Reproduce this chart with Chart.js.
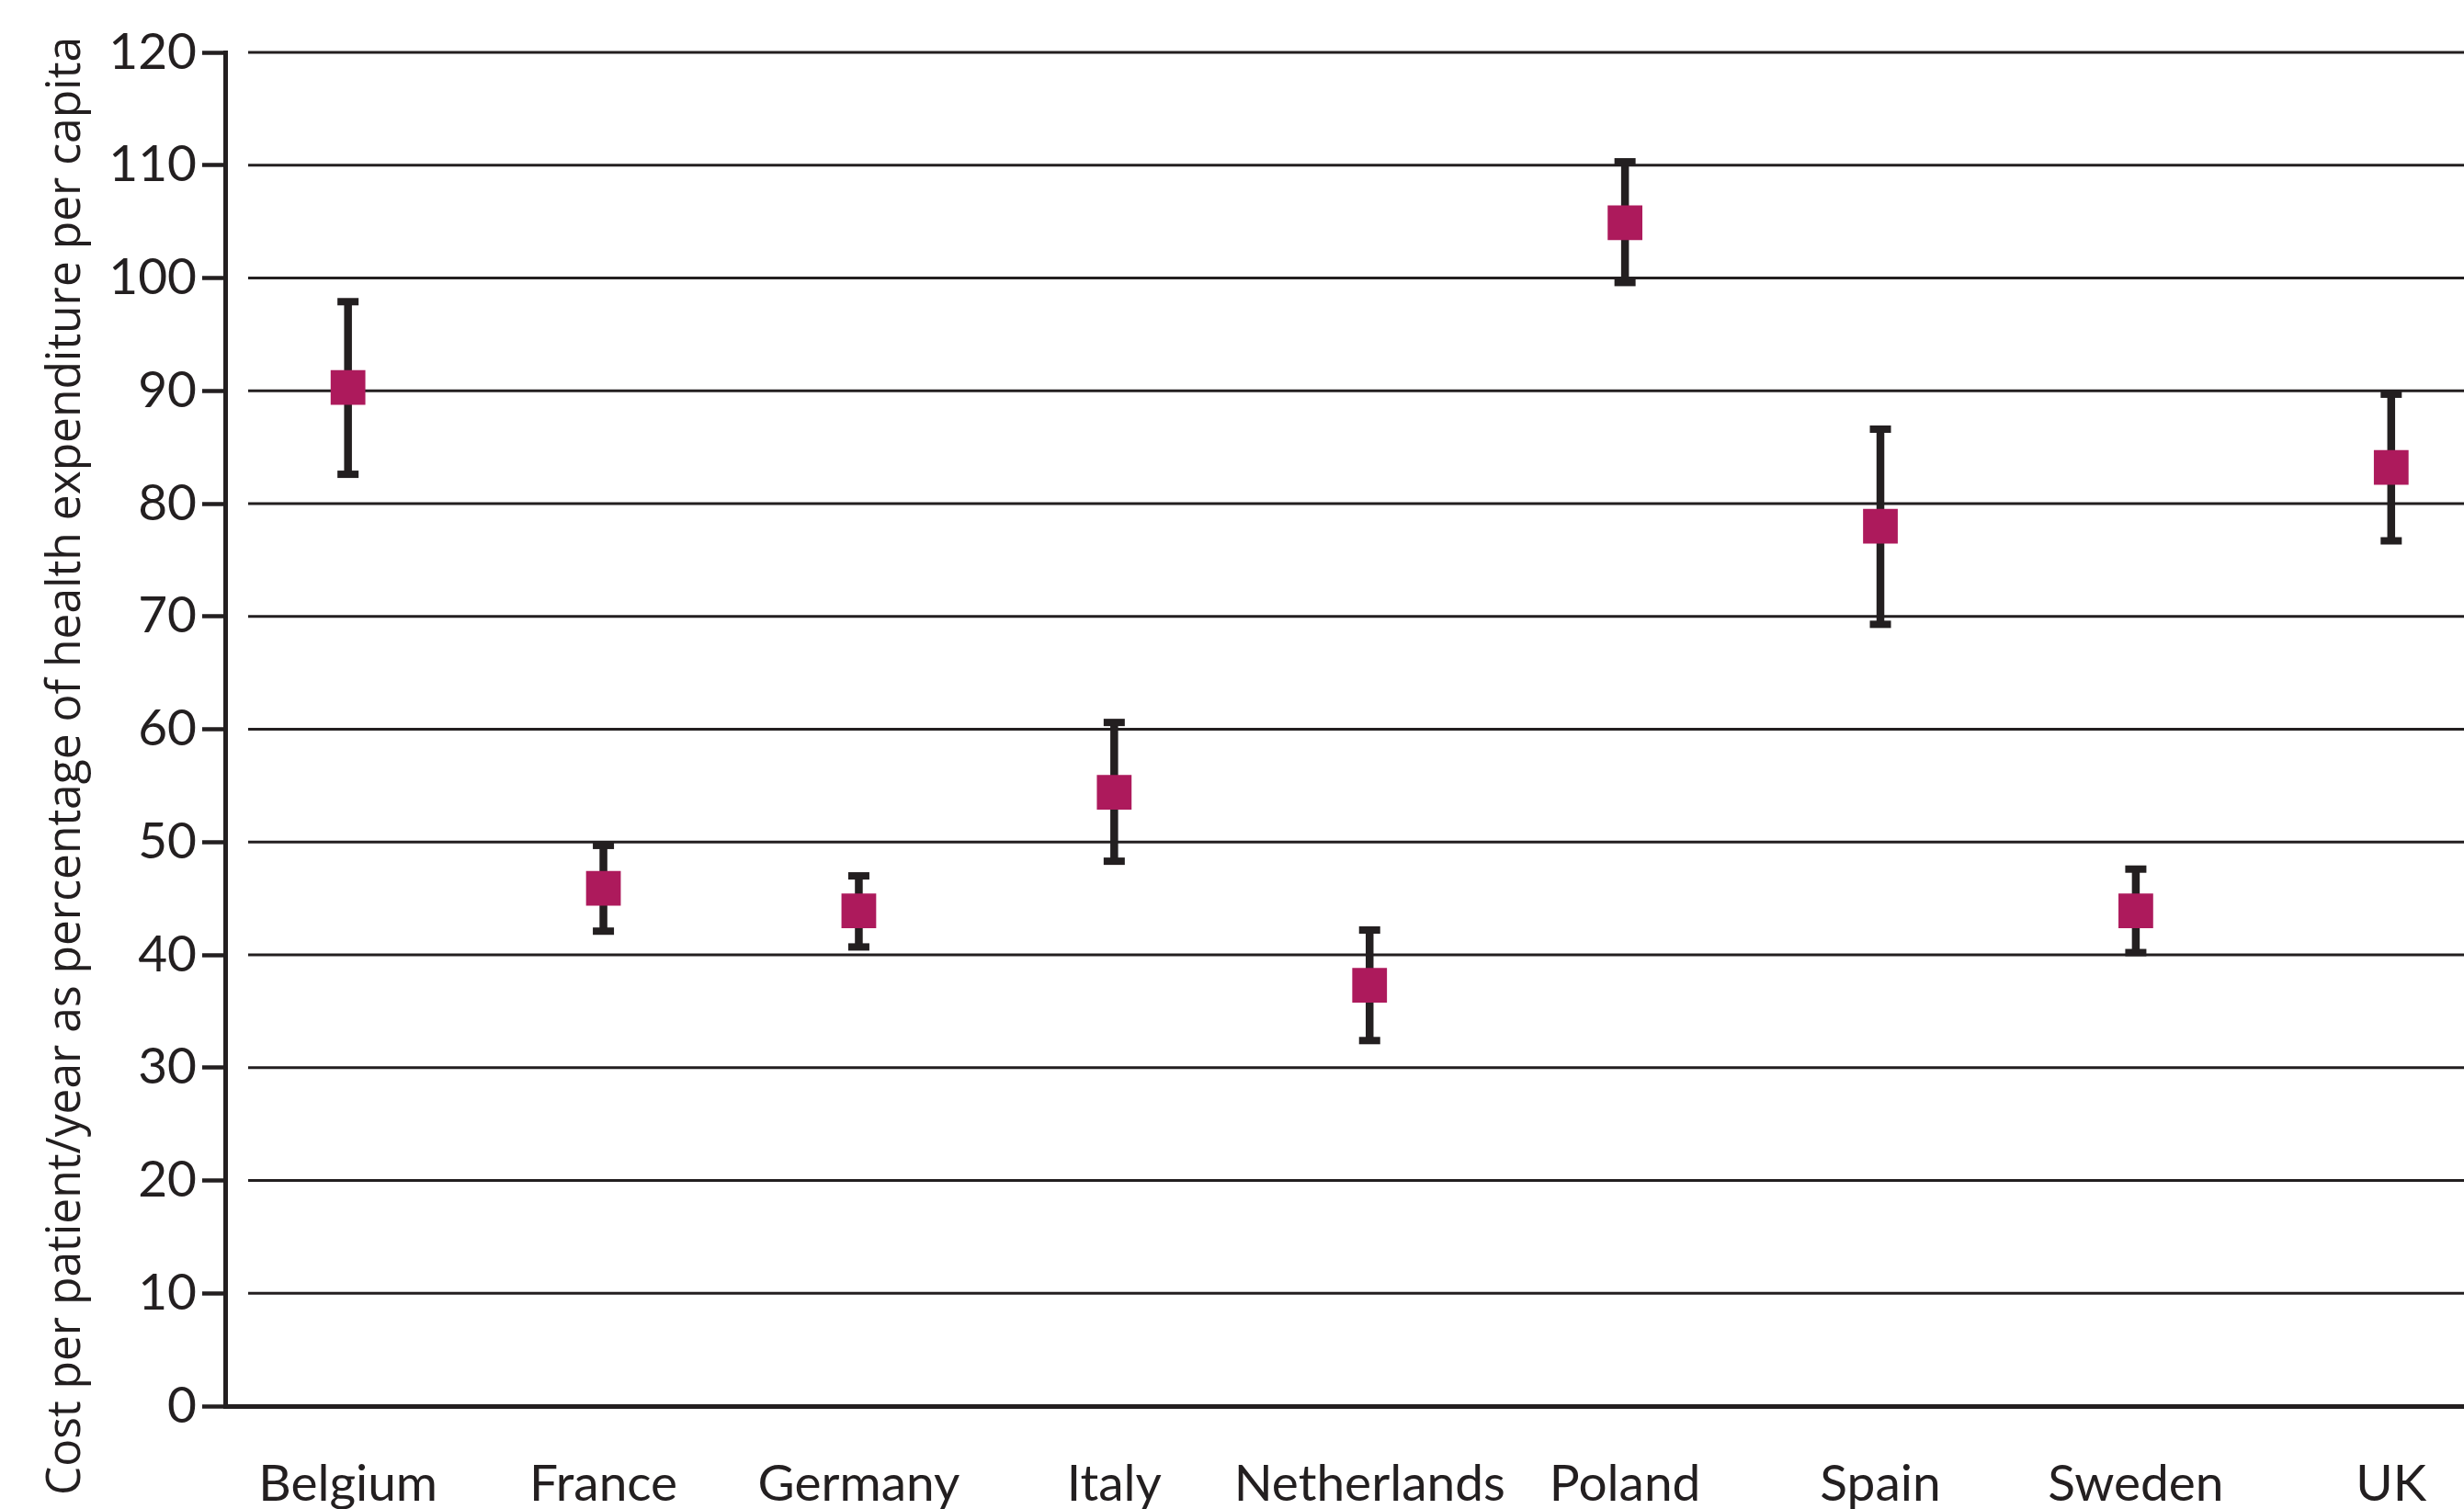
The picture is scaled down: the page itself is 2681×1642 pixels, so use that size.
<!DOCTYPE html>
<html>
<head>
<meta charset="utf-8">
<title>Cost per patient/year as percentage of health expenditure per capita</title>
<script src="https://cdn.jsdelivr.net/npm/chart.js@4.4.1/dist/chart.umd.min.js"></script>
<style>
  html, body { margin: 0; padding: 0; background: #ffffff; overflow: hidden; }
  #wrap { width: 2681px; height: 1642px; }
</style>
</head>
<body>
<div id="wrap"><canvas id="chart" width="2681" height="1642"></canvas></div>
<script>
// Countries along the x axis
const countries = ['Belgium', 'France', 'Germany', 'Italy', 'Netherlands', 'Poland', 'Spain', 'Sweden', 'UK'];
// Mean cost per patient/year (% of health expenditure per capita)
const meanCost = [90.3, 45.9, 43.9, 54.4, 37.3, 104.9, 78.0, 43.9, 83.2];
// Upper and lower ends of the error bars
const upperBound = [97.9, 49.7, 47.0, 60.6, 42.2, 110.3, 86.6, 47.6, 89.7];
const lowerBound = [82.6, 42.1, 40.7, 48.3, 32.4, 99.6, 69.3, 40.2, 76.7];
// Value axis ticks
const yTicks = [0, 10, 20, 30, 40, 50, 60, 70, 80, 90, 100, 110, 120];
const yTitle = 'Cost per patient/year as percentage of health expenditure per capita';

const INK = '#231f20';
const MARKER = '#ad1a5c';

// Horizontal reference lines, starting a little to the right of the value axis
const gridLines = {
  id: 'gridLines',
  beforeDatasetsDraw(chart) {
    const { ctx, chartArea, scales } = chart;
    ctx.save();
    ctx.strokeStyle = INK;
    ctx.lineWidth = 3;
    yTicks.forEach(v => {
      if (v === 0) return;
      const y = scales.y.getPixelForValue(v);
      ctx.beginPath();
      ctx.moveTo(chartArea.left + 25, y);
      ctx.lineTo(chartArea.right, y);
      ctx.stroke();
    });
    ctx.restore();
  }
};

// Error bars with flat caps, drawn beneath the square markers
const errorBars = {
  id: 'errorBars',
  beforeDatasetsDraw(chart) {
    const { ctx, scales } = chart;
    ctx.save();
    ctx.fillStyle = INK;
    countries.forEach((c, i) => {
      const x = scales.x.getPixelForValue(i);
      const yHi = scales.y.getPixelForValue(upperBound[i]);
      const yLo = scales.y.getPixelForValue(lowerBound[i]);
      const stem = 8.5, capW = 23, capH = 8;
      ctx.fillRect(x - stem / 2, yHi, stem, yLo - yHi);
      ctx.fillRect(x - capW / 2, yHi - capH / 2, capW, capH);
      ctx.fillRect(x - capW / 2, yLo - capH / 2, capW, capH);
    });
    ctx.restore();
  }
};

// Vertical axis title, set in a narrow face reading bottom to top
const axisTitle = {
  id: 'axisTitle',
  afterDraw(chart) {
    const { ctx } = chart;
    const span = 1587;
    ctx.save();
    ctx.font = '52px "Open Sans"';
    const w = ctx.measureText(yTitle).width;
    ctx.translate(87, 833.5);
    ctx.rotate(-Math.PI / 2);
    ctx.scale(Math.min(1, span / w), 1);
    ctx.fillStyle = INK;
    ctx.textAlign = 'center';
    ctx.textBaseline = 'alphabetic';
    ctx.fillText(yTitle, 0, 0);
    ctx.restore();
  }
};

new Chart(document.getElementById('chart'), {
  type: 'scatter',
  data: {
    datasets: [{
      data: meanCost.map((v, i) => ({ x: i, y: v })),
      pointStyle: 'rect',
      pointRadius: 26.7,
      pointHoverRadius: 26.7,
      pointBackgroundColor: MARKER,
      pointBorderWidth: 0,
      showLine: false
    }]
  },
  options: {
    responsive: false,
    devicePixelRatio: 1,
    animation: false,
    layout: { autoPadding: false, padding: { top: 57, left: 0, right: 0, bottom: 0 } },
    plugins: { legend: { display: false }, tooltip: { enabled: false } },
    scales: {
      x: {
        type: 'linear',
        min: -0.481,
        max: 8.285,
        afterBuildTicks(scale) { scale.ticks = countries.map((_, i) => ({ value: i })); },
        afterFit(scale) { scale.height = 112; scale.paddingLeft = 0; scale.paddingRight = 0; },
        grid: { display: false, drawTicks: false },
        border: { display: true, color: INK, width: 5 },
        ticks: {
          autoSkip: false,
          maxRotation: 0,
          padding: 52,
          color: INK,
          font: { family: 'Lato', size: 55 },
          callback: v => countries[v]
        }
      },
      y: {
        min: 0,
        max: 120,
        afterBuildTicks(scale) { scale.ticks = yTicks.map(v => ({ value: v })); },
        afterFit(scale) { scale.width = 245; scale.paddingBottom = 0; },
        grid: { drawOnChartArea: false, drawTicks: true, tickLength: 25, tickWidth: 4.5, tickColor: INK },
        border: { display: true, color: INK, width: 5 },
        ticks: {
          padding: 6,
          color: INK,
          font: { family: 'Lato', size: 55 }
        }
      }
    }
  },
  plugins: [gridLines, errorBars, axisTitle]
});
</script>
</body>
</html>
